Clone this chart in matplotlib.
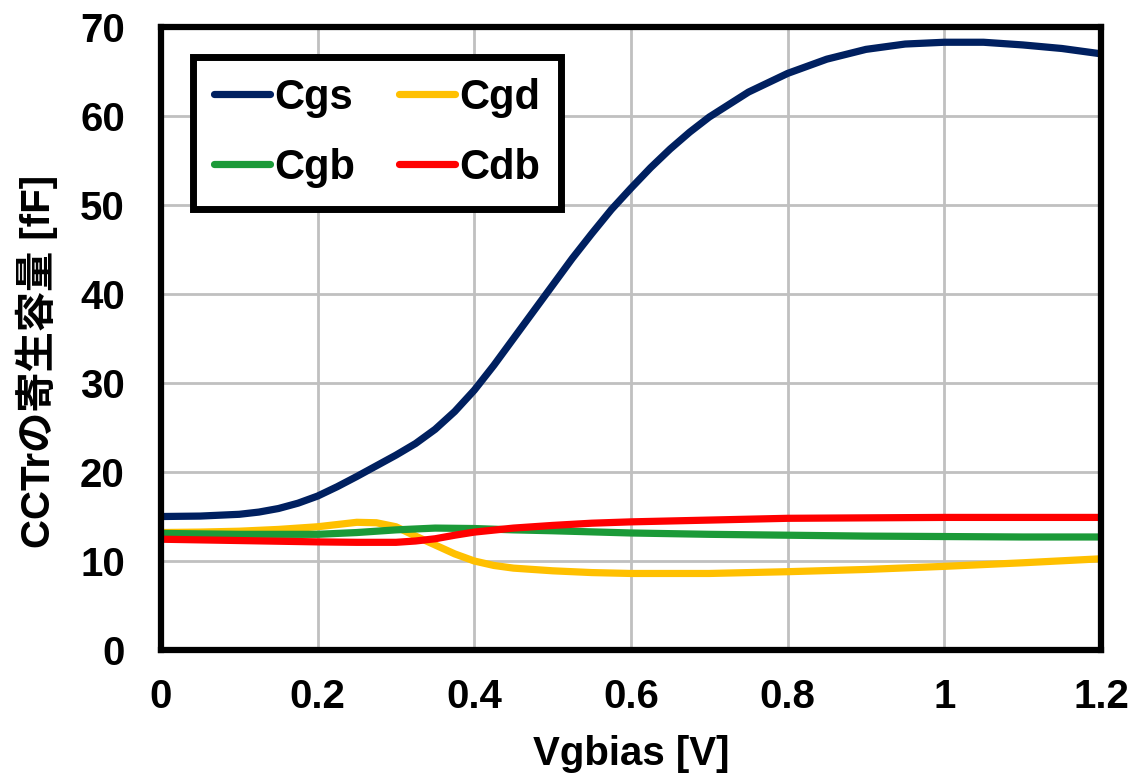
import matplotlib
matplotlib.use('Agg')
import matplotlib.pyplot as plt
from matplotlib.ticker import FixedLocator, FixedFormatter

plt.rcParams['font.family'] = ['Liberation Sans', 'Noto Sans CJK JP', 'DejaVu Sans']
plt.rcParams['font.weight'] = 'bold'

# Cgs [fF] vs Vgbias [V]
cgs_x = [0.0, 0.05, 0.1, 0.125, 0.15, 0.175, 0.2, 0.225, 0.25, 0.275, 0.3, 0.325,
         0.35, 0.375, 0.4, 0.425, 0.45, 0.475, 0.5, 0.525, 0.55, 0.575, 0.6, 0.625,
         0.65, 0.675, 0.7, 0.75, 0.8, 0.85, 0.9, 0.95, 1.0, 1.05, 1.1, 1.15, 1.2]
cgs_y = [15.0, 15.05, 15.25, 15.5, 15.9, 16.5, 17.3, 18.35, 19.5, 20.7, 21.9, 23.2,
         24.8, 26.8, 29.2, 32.0, 35.0, 38.0, 41.0, 44.0, 46.8, 49.5, 51.9, 54.2,
         56.3, 58.2, 59.9, 62.7, 64.8, 66.4, 67.5, 68.1, 68.3, 68.3, 68.0, 67.6, 67.0]

# Cgd
cgd_x = [0.0, 0.05, 0.1, 0.15, 0.2, 0.225, 0.25, 0.275, 0.3, 0.325, 0.35, 0.375,
         0.4, 0.425, 0.45, 0.5, 0.55, 0.6, 0.7, 0.8, 0.9, 1.0, 1.1, 1.2]
cgd_y = [13.2, 13.25, 13.35, 13.55, 13.85, 14.1, 14.35, 14.3, 13.85, 12.8, 11.8, 10.8,
         10.0, 9.5, 9.2, 8.9, 8.7, 8.6, 8.6, 8.8, 9.05, 9.4, 9.8, 10.25]

# Cgb
cgb_x = [0.0, 0.1, 0.2, 0.25, 0.3, 0.35, 0.4, 0.45, 0.5, 0.6, 0.7, 0.8, 0.9, 1.0,
         1.1, 1.2]
cgb_y = [13.1, 13.0, 13.0, 13.2, 13.5, 13.7, 13.65, 13.5, 13.4, 13.15, 13.0, 12.9,
         12.8, 12.75, 12.7, 12.7]

# Cdb
cdb_x = [0.0, 0.1, 0.2, 0.25, 0.3, 0.325, 0.35, 0.375, 0.4, 0.45, 0.5, 0.55, 0.6,
         0.7, 0.8, 0.9, 1.0, 1.1, 1.2]
cdb_y = [12.45, 12.3, 12.15, 12.1, 12.1, 12.25, 12.5, 12.9, 13.25, 13.7, 14.0, 14.25,
         14.4, 14.6, 14.8, 14.85, 14.9, 14.9, 14.9]

series_names = ['Cgs', 'Cgd', 'Cgb', 'Cdb']
series_colors = ['#002060', '#FFC000', '#1B9A38', '#FF0000']

x_ticks = [0, 0.2, 0.4, 0.6, 0.8, 1.0, 1.2]
x_labels = ['0', '0.2', '0.4', '0.6', '0.8', '1', '1.2']
y_ticks = [0, 10, 20, 30, 40, 50, 60, 70]

fig = plt.figure(figsize=(11.32, 7.75), dpi=100)
ax = fig.add_axes([0.1422, 0.1613, 0.8304, 0.8037])

series = [(cgs_x, cgs_y), (cgd_x, cgd_y), (cgb_x, cgb_y), (cdb_x, cdb_y)]
lines = {}
for name, (xs, ys), col in zip(series_names, series, series_colors):
    ln, = ax.plot(xs, ys, color=col, lw=5.2, solid_capstyle='butt',
                  solid_joinstyle='round', label=name, zorder=3)
    lines[name] = ln

ax.set_xlim(0, 1.2)
ax.set_ylim(0, 70)
ax.xaxis.set_major_locator(FixedLocator(x_ticks))
ax.xaxis.set_major_formatter(FixedFormatter(x_labels))
ax.set_yticks(y_ticks)
ax.grid(True, color='#C0C0C0', lw=2, zorder=0)
ax.tick_params(length=0, labelsize=29)
ax.tick_params(axis='x', pad=20)
ax.tick_params(axis='y', pad=26)
for lab in ax.get_xticklabels() + ax.get_yticklabels():
    lab.set_fontweight('bold')
for sp in ax.spines.values():
    sp.set_linewidth(4.5)
    sp.set_color('black')
    sp.set_zorder(5)

# the reference crops the descender a little; keep it just inside the canvas
fig.text(0.558, 1 - 765 / 775, 'Vgbias [V]', fontsize=29, fontweight='bold',
         ha='center', va='baseline')
fig.text(37 / 1132, 0.533, 'CCTrの寄生容量 [fF]', fontsize=29, fontweight='bold',
         rotation=90, ha='center', va='center')

# column-wise fill: Cgs/Cgb in the left column, Cgd/Cdb in the right
order = ['Cgs', 'Cgb', 'Cgd', 'Cdb']
leg = ax.legend([lines[n] for n in order], order, ncol=2, loc='upper left',
                bbox_to_anchor=(0.034, 0.952), frameon=True, framealpha=1,
                fancybox=False, handlelength=1.35, handletextpad=0.1,
                columnspacing=1.05, labelspacing=0.72, borderpad=0.5,
                borderaxespad=0, prop={'weight': 'bold', 'size': 30})
leg.get_frame().set_edgecolor('black')
leg.get_frame().set_linewidth(5)
leg.set_zorder(6)
for h in leg.get_lines():
    h.set_linewidth(5.2)
    h.set_solid_capstyle('round')

fig.savefig('out.png', dpi=100)
